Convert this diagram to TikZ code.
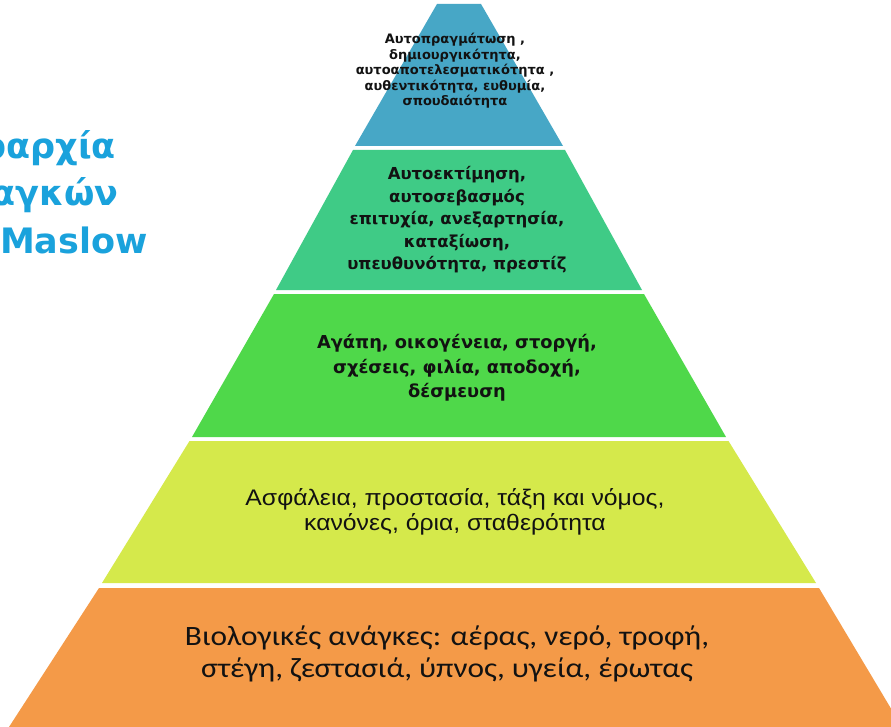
\documentclass[tikz,border=0pt]{standalone}
\usepackage{fontspec}
\setmainfont{DejaVu Sans}
\newfontfamily\arialf{Liberation Sans}[FakeStretch=1.1]
\newfontfamily\calib{Carlito}[FakeStretch=1.12]
\definecolor{titleblue}{HTML}{1AA2DC}
\definecolor{lvA}{HTML}{47A7C6}
\definecolor{lvB}{HTML}{3FCB86}
\definecolor{lvC}{HTML}{4FD84A}
\definecolor{lvD}{HTML}{D5E94B}
\definecolor{lvE}{HTML}{F49A48}
\definecolor{ink}{HTML}{121212}
\begin{document}
\begin{tikzpicture}[x=1pt,y=-1pt,
  titletext/.style={anchor=base east,inner sep=0pt,text=titleblue,font=\bfseries\fontsize{35}{42}\selectfont},
  lvtext/.style={align=center,inner sep=0pt,text=ink}]
\useasboundingbox (0,0) rectangle (891,727);
\clip (0,0) rectangle (891,727);
\fill[white] (0,0) rectangle (891,727);
% levels
\fill[lvA] (437,4) -- (481,4) -- (563,146) -- (355,146) -- cycle;
\fill[lvB] (353,150) -- (565,150) -- (642,290) -- (276,290) -- cycle;
\fill[lvC] (274,294) -- (644,294) -- (726,437) -- (192,437) -- cycle;
\fill[lvD] (189.5,441) -- (728.5,441) -- (816,583) -- (102,583) -- cycle;
\fill[lvE] (99,588) -- (819,588) -- (902,727) -- (9,727) -- cycle;
% title
\node[titletext] (t1) at (116,159) {Ιεραρχία};
\node[titletext] (t2) at (119,206) {αναγκών};
\node[titletext] (t3) at (148,254) {του Maslow};
% texts
\node[lvtext,font=\bfseries\fontsize{13}{15.5}\selectfont] (a) at (455,71)
  {Αυτοπραγμάτωση ,\\ δημιουργικότητα,\\ αυτοαποτελεσματικότητα ,\\ αυθεντικότητα, ευθυμία,\\ σπουδαιότητα};
\node[lvtext,font=\bfseries\fontsize{16.5}{22.5}\selectfont] (b) at (457,220)
  {Αυτοεκτίμηση,\\ αυτοσεβασμός\\ επιτυχία, ανεξαρτησία,\\ καταξίωση,\\ υπευθυνότητα, πρεστίζ};
\node[lvtext,font=\bfseries\fontsize{17.8}{24.5}\selectfont] (c) at (457,368)
  {Αγάπη, οικογένεια, στοργή,\\ σχέσεις, φιλία, αποδοχή,\\ δέσμευση};
\node[lvtext,font=\arialf\fontsize{22.5}{24.5}\selectfont] (d) at (455,512)
  {Ασφάλεια, προστασία, τάξη και νόμος,\\ κανόνες, όρια, σταθερότητα};
\node[lvtext,font=\calib\fontsize{28}{32}\selectfont] (e) at (447,654)
  {Βιολογικές ανάγκες: αέρας, νερό, τροφή,\\ στέγη, ζεστασιά, ύπνος, υγεία, έρωτας};
\end{tikzpicture}
\end{document}
